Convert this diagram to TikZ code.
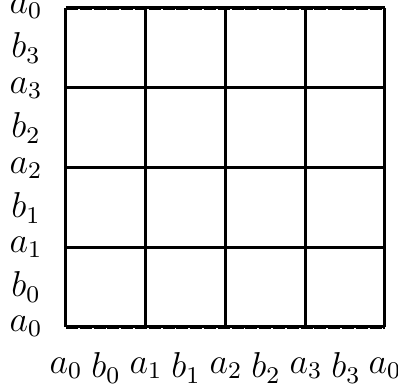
\documentclass[tikz,border=0pt]{standalone}
\begin{document}
\begin{tikzpicture}[x=0.3333pt,y=-0.3333pt,
  gridline/.style={line width=1pt,black},
  edgeline/.style={line width=1.2pt,black,dash pattern=on 4pt off 0.6pt},
  lab/.style={inner sep=0pt,font=\large}]
\useasboundingbox (0,0) rectangle (398,387);
% vertical lines
\foreach \i in {0,...,4} {
  \draw[gridline] ({66+79.75*\i},8) -- ({66+79.75*\i},327);
}
% interior horizontal lines
\foreach \j in {1,2,3} {
  \draw[gridline] (66,{8+79.75*\j}) -- (385,{8+79.75*\j});
}
% top and bottom edges
\draw[gridline] (66,8) -- (385,8);
\draw[gridline] (66,327) -- (385,327);
\draw[edgeline] (66,8) -- (385,8);
\draw[edgeline] (66,327) -- (385,327);
% left labels
\node[lab] (l0) at (26,8) {$a_0$};
\node[lab] (l1) at (26,48) {$b_3$};
\node[lab] (l2) at (26,88) {$a_3$};
\node[lab] (l3) at (26,128) {$b_2$};
\node[lab] (l4) at (26,168) {$a_2$};
\node[lab] (l5) at (26,208) {$b_1$};
\node[lab] (l6) at (26,247) {$a_1$};
\node[lab] (l7) at (26,287) {$b_0$};
\node[lab] (l8) at (26,326) {$a_0$};
% bottom labels
\node[lab] (m0) at (66,368) {$a_0$};
\node[lab] (m1) at (106,368) {$b_0$};
\node[lab] (m2) at (146,368) {$a_1$};
\node[lab] (m3) at (186,368) {$b_1$};
\node[lab] (m4) at (226,368) {$a_2$};
\node[lab] (m5) at (266,368) {$b_2$};
\node[lab] (m6) at (306,368) {$a_3$};
\node[lab] (m7) at (346,368) {$b_3$};
\node[lab] (m8) at (385,368) {$a_0$};
\end{tikzpicture}
\end{document}
